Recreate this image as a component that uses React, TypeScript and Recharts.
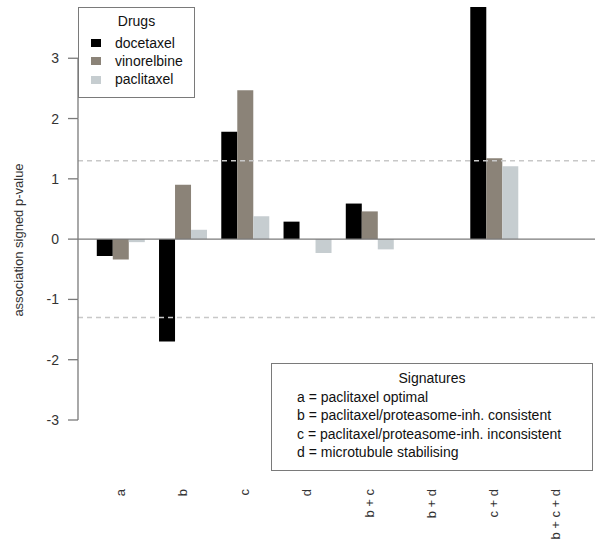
import React from 'react';
import { BarChart, Bar, XAxis, YAxis, ReferenceLine } from 'recharts';

const categories = ['a', 'b', 'c', 'd', 'b + c', 'b + d', 'c + d', 'b + c + d'];
const docetaxel = [-0.28, -1.7, 1.78, 0.29, 0.59, 0, 3.85, 0];
const vinorelbine = [-0.34, 0.9, 2.47, 0, 0.46, 0, 1.34, 0];
const paclitaxel = [-0.05, 0.155, 0.38, -0.23, -0.17, 0, 1.21, 0];
const yTicks = [-3, -2, -1, 0, 1, 2, 3];
const yDomain: [number, number] = [-3, 3.85];
const threshold = 1.3;
const drugNames = ['docetaxel', 'vinorelbine', 'paclitaxel'];
const drugColors = ['#000000', '#8b8378', '#c6cdd0'];
const signatureTitle = 'Signatures';
const signatureLines = [
  'a = paclitaxel optimal',
  'b = paclitaxel/proteasome-inh. consistent',
  'c = paclitaxel/proteasome-inh. inconsistent',
  'd = microtubule stabilising',
];
const yLabel = 'association signed p-value';

const seriesValues = [docetaxel, vinorelbine, paclitaxel];
const data = categories.map((c, i) => {
  const row: Record<string, string | number> = { cat: c };
  drugNames.forEach((d, k) => (row[d] = seriesValues[k][i]));
  return row;
});

const W = 595;
const H = 556;
const TOP = 7;
const PLOT_BOTTOM = 420;
const AXIS_X = 78;
const FONT = "'Liberation Sans', Arial, Helvetica, sans-serif";
const unitPx = (PLOT_BOTTOM - TOP) / (yDomain[1] - yDomain[0]);

const YTick = (props: any) => {
  const { y, payload } = props;
  const v = payload.value;
  return (
    <g>
      <line x1={AXIS_X - 10} x2={AXIS_X} y1={y} y2={y} stroke="#7a7a7a" strokeWidth={1.3} />
      {v < yTicks[yTicks.length - 1] && (
        <line x1={AXIS_X} x2={AXIS_X} y1={y} y2={y - unitPx} stroke="#7a7a7a" strokeWidth={1.3} />
      )}
      <text x={AXIS_X - 19} y={y} dy={5} textAnchor="end" fontSize={14} fill="#333" fontFamily={FONT}>
        {v}
      </text>
    </g>
  );
};

const XTick = (props: any) => {
  const { x, payload } = props;
  return (
    <text
      transform={`translate(${x + 4.5},${489}) rotate(-90)`}
      textAnchor="end"
      fontSize={13}
      fill="#333"
      fontFamily={FONT}
    >
      {payload.value}
    </text>
  );
};

export default function App() {
  return (
    <div style={{ position: 'absolute', left: 0, top: 0, width: W, height: H, fontFamily: FONT, background: '#fff' }}>
      <BarChart
        width={W}
        height={H}
        data={data}
        margin={{ top: TOP, right: 0, bottom: 0, left: 0 }}
        barCategoryGap="12.5%"
        barGap={0}
      >
        <XAxis
          dataKey="cat"
          axisLine={false}
          tickLine={false}
          height={H - PLOT_BOTTOM}
          padding={{ left: 11, right: 8 }}
          tick={<XTick />}
          interval={0}
        />
        <YAxis
          type="number"
          domain={yDomain}
          ticks={yTicks}
          width={AXIS_X}
          axisLine={false}
          tickLine={false}
          tick={<YTick />}
          interval={0}
          label={(p: any) => (
            <text
              transform={`translate(23,240) rotate(-90)`}
              textAnchor="middle"
              fontSize={13}
              fill="#333"
              fontFamily={FONT}
            >
              {yLabel}
            </text>
          )}
        />
        {drugNames.map((d, k) => (
          <Bar key={d} dataKey={d} fill={drugColors[k]} isAnimationActive={false} />
        ))}
        <ReferenceLine y={threshold} stroke="#c8c8c8" strokeWidth={1.3} strokeDasharray="5 4" />
        <ReferenceLine y={-threshold} stroke="#c8c8c8" strokeWidth={1.3} strokeDasharray="5 4" />
        <ReferenceLine y={0} stroke="#7a7a7a" strokeWidth={1.3} />
      </BarChart>

      <div
        style={{
          position: 'absolute',
          left: 78,
          top: 7,
          width: 117,
          height: 91,
          boxSizing: 'border-box',
          border: '1.3px solid #7a7a7a',
          background: '#fff',
          fontSize: 14,
          color: '#111',
        }}
      >
        <div style={{ position: 'absolute', left: 0, width: '100%', top: 5, textAlign: 'center', lineHeight: '16px' }}>
          Drugs
        </div>
        {drugNames.map((d, k) => (
          <div key={d} style={{ position: 'absolute', left: 12, top: 27 + k * 18.2, height: 16, lineHeight: '16px', whiteSpace: 'nowrap' }}>
            <span style={{ display: 'inline-block', width: 10, height: 8, background: drugColors[k], marginRight: 14, verticalAlign: 'middle', position: 'relative', top: -1 }} />
            <span>{d}</span>
          </div>
        ))}
      </div>

      <div
        style={{
          position: 'absolute',
          left: 271,
          top: 363,
          width: 322,
          height: 108,
          boxSizing: 'border-box',
          border: '1.3px solid #7a7a7a',
          background: '#fff',
          fontSize: 14,
          color: '#111',
        }}
      >
        <div style={{ position: 'absolute', left: 0, width: '100%', top: 6, textAlign: 'center', lineHeight: '16px' }}>
          {signatureTitle}
        </div>
        {signatureLines.map((s, k) => (
          <div key={s} style={{ position: 'absolute', left: 25, top: 25 + k * 18.4, lineHeight: '16px', whiteSpace: 'nowrap' }}>
            {s}
          </div>
        ))}
      </div>
    </div>
  );
}
